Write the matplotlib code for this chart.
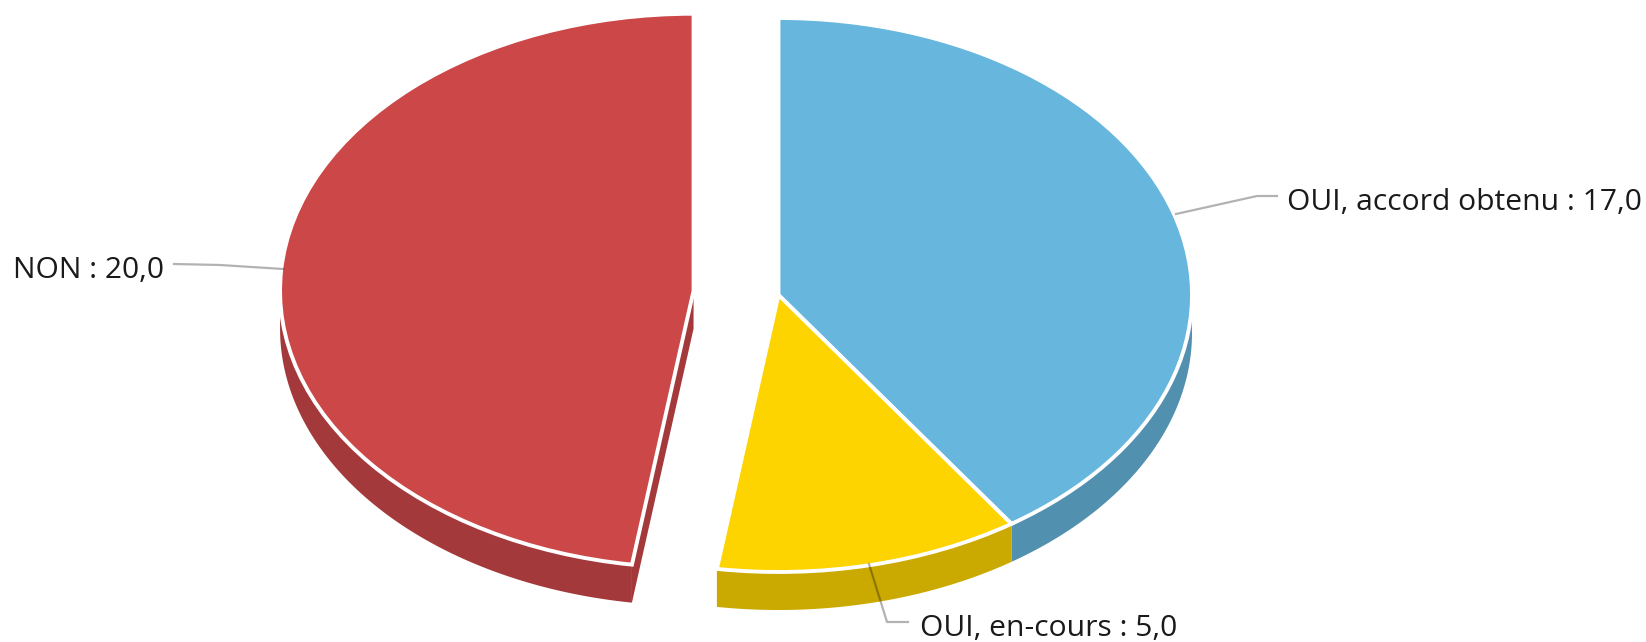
import numpy as np
import matplotlib
matplotlib.use("Agg")
import matplotlib.pyplot as plt

categories = ["OUI, accord obtenu", "OUI, en-cours", "NON"]
values = [17.0, 5.0, 20.0]
top_colors = ["#67b6dd", "#fdd400", "#cc4748"]
wall_colors = ["#5290b0", "#caaa00", "#a3393a"]
explode = [0, 0, 0.206]

W, H = 1646, 642
CX, CY = 778.5, 295.0      # pie centre, px from top-left
RX, RY = 413.5, 277.0      # ellipse radii, px
DEPTH = 38.0               # side wall height, px

fig = plt.figure(figsize=(W / 100, H / 100), dpi=100, facecolor="white")
ax = fig.add_axes([0, 0, 1, 1])

wedges, _ = ax.pie(values, startangle=90, counterclock=False, explode=explode,
                   colors=top_colors,
                   wedgeprops={"edgecolor": "white", "linewidth": 2.8, "zorder": 5})
ax.set_aspect("auto")
ax.set_xlim(-CX / RX, (W - CX) / RX)
ax.set_ylim(-(H - CY) / RY, CY / RY)
d = DEPTH / RY


def px(x, y):
    """Pixel position (from top-left) to data coordinates."""
    return (x - CX) / RX, (CY - y) / RY


def arc(cx, cy, a0, a1, n=160):
    t = np.radians(np.linspace(a0, a1, n))
    return cx + np.cos(t), cy + np.sin(t)


for w, col in zip(wedges, wall_colors):
    cx, cy = w.center
    a0, a1 = w.theta1 % 360, w.theta2 % 360
    if a1 <= a0:
        a1 += 360
    # parts of the rim that face the viewer (lower half of the ellipse)
    for lo, hi in [(180, 360), (540, 720)]:
        s, e = max(a0, lo), min(a1, hi)
        if e > s:
            x, y = arc(cx, cy, s, e)
            ax.fill(np.r_[x, x[::-1]], np.r_[y, y[::-1] - d],
                    color=col, lw=0, zorder=2)
    # cut face of the exploded slice
    if a1 % 360 > 180 and w.center[0] != 0 and (a1 % 360) < 270:
        x, y = arc(cx, cy, a1, a1, 2)
        ax.fill([cx, x[0], x[0], cx], [cy, y[0], y[0] - d, cy - d],
                color=col, lw=0, zorder=2)

# leader lines
leaders = [
    [(1176, 214), (1257, 196), (1277, 196)],
    [(869, 564), (887, 622), (908, 622)],
    [(283, 269), (220, 265), (174, 264)],
]
anchors = [(1287, 203, "left"), (920, 629, "left"), (13, 271, "left")]

for path in leaders:
    pts = np.array([px(*p) for p in path])
    ax.plot(pts[:, 0], pts[:, 1], color="black", alpha=0.3, lw=1.6, zorder=6,
            solid_joinstyle="round")

for cat, val, (x, y, ha) in zip(categories, values, anchors):
    tx, ty = px(x, y)
    label = f"{cat} : {val:.1f}".replace(".", ",")
    ax.text(tx, ty, label, family="Open Sans", fontsize=21.6, color="#1a1a1a",
            ha=ha, va="center", zorder=7)

fig.savefig("out.png", dpi=100, facecolor="white")
